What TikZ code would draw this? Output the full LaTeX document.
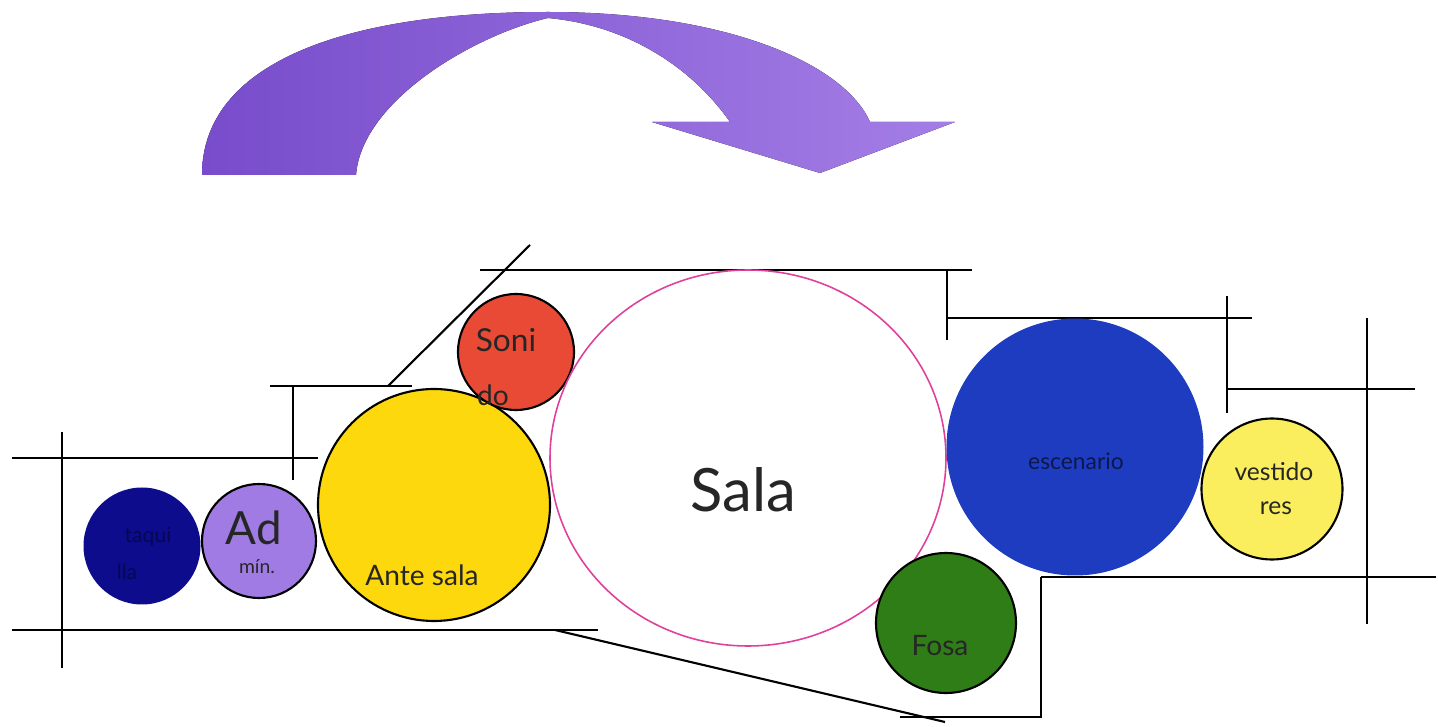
\documentclass[tikz,border=0pt]{standalone}
\usepackage{fontspec}
\setmainfont{Lato}
\usetikzlibrary{shapes.geometric,positioning}

\definecolor{navyroom}{HTML}{0C0C8C}
\definecolor{lavroom}{HTML}{A07BE3}
\definecolor{goldroom}{HTML}{FDD80D}
\definecolor{redroom}{HTML}{E84A35}
\definecolor{blueroom}{HTML}{1E3CC0}
\definecolor{paleroom}{HTML}{FAEE5E}
\definecolor{greenroom}{HTML}{2F7D16}
\definecolor{salaline}{HTML}{E0409A}
\definecolor{arrowdark}{HTML}{784CCB}
\definecolor{arrowlight}{HTML}{A47EE6}

\begin{document}
\begin{tikzpicture}[x=0.1mm, y=-0.1mm,
    room/.style={circle, draw=black, line width=0.6pt, inner sep=0pt},
    wall/.style={draw, line width=0.6pt},
    tag/.style={inner sep=0pt, text=black!85}]

    \useasboundingbox (0,0) rectangle (1438,727);

    % curved arrow on top
    \fill[left color=arrowdark, right color=arrowlight]
        (202,175) .. controls (202,65) and (340,12) .. (548,12)
        .. controls (730,12) and (845,65) .. (870,122)
        -- (955,122) -- (820,173) -- (652,122) -- (730,122)
        .. controls (690,65) and (625,25) .. (548,18)
        .. controls (475,35) and (362,100) .. (356,175) -- cycle;

    % walls
    \draw[wall] (12,458) -- (318,458);
    \draw[wall] (62,432) -- (62,668);
    \draw[wall] (12,630) -- (598,630);
    \draw[wall] (555,630) -- (945,722);
    \draw[wall] (270,386) -- (412,386);
    \draw[wall] (293,386) -- (293,480);
    \draw[wall] (388,386) -- (530,245);
    \draw[wall] (480,270) -- (972,270);
    \draw[wall] (947,270) -- (947,340);
    \draw[wall] (947,318) -- (1252,318);
    \draw[wall] (1227,296) -- (1227,413);
    \draw[wall] (1227,389) -- (1415,389);
    \draw[wall] (1367,318) -- (1367,624);
    \draw[wall] (1041,577) -- (1436,577);
    \draw[wall] (1041,577) -- (1041,717) -- (900,717);

    % rooms
    \node[room, draw=none, fill=navyroom, minimum size=11.7mm] (taquilla) at (142,546) {};
    \node[room, fill=lavroom, minimum size=11.4mm] (admin) at (259,541) {};
    \node[room, fill=goldroom, minimum size=23.2mm] (antesala) at (434,505) {};
    \node[room, fill=redroom, minimum size=11.6mm] (sonido) at (516,352) {};
    \node[ellipse, draw=salaline, fill=white, line width=0.45pt, inner sep=0pt,
          minimum width=39.6mm, minimum height=37.6mm] (sala) at (748,458) {};
    \node[room, draw=none, fill=blueroom, minimum size=25.7mm] (escenario) at (1075,447) {};
    \node[room, fill=paleroom, minimum size=14.1mm] (vestidores) at (1272,489) {};
    \node[room, fill=greenroom, minimum size=14.0mm] (fosa) at (946,623) {};

    % labels
    \node[tag, text=navyroom!60!black, font=\fontsize{6}{7}\selectfont] (taqA) at (148,537) {taqui};
    \node[tag, text=navyroom!60!black, font=\fontsize{6}{7}\selectfont] (taqB) at (127,572) {lla};
    \node[tag, font=\fontsize{13}{15}\selectfont] (adA) at (254,528) {Ad};
    \node[tag, font=\fontsize{5.5}{7}\selectfont] (adB) at (257,567) {mín.};
    \node[tag, font=\fontsize{8}{10}\selectfont] (anteT) at (422,575) {Ante sala};
    \node[tag, font=\fontsize{9}{11}\selectfont] (sonA) at (506,340) {Soni};
    \node[tag, font=\fontsize{8}{10}\selectfont] (sonB) at (493,395) {do};
    \node[tag, font=\fontsize{17}{20}\selectfont] (salaT) at (743,490) {Sala};
    \node[tag, text=blueroom!40!black, font=\fontsize{6.5}{8}\selectfont] (escT) at (1076,461) {escenario};
    \node[tag, font=\fontsize{7}{9}\selectfont] (vesA) at (1274,472) {vestido};
    \node[tag, font=\fontsize{7}{9}\selectfont] (vesB) at (1276,508) {res};
    \node[tag, font=\fontsize{8}{10}\selectfont] (fosaT) at (940,646) {Fosa};
\end{tikzpicture}
\end{document}
